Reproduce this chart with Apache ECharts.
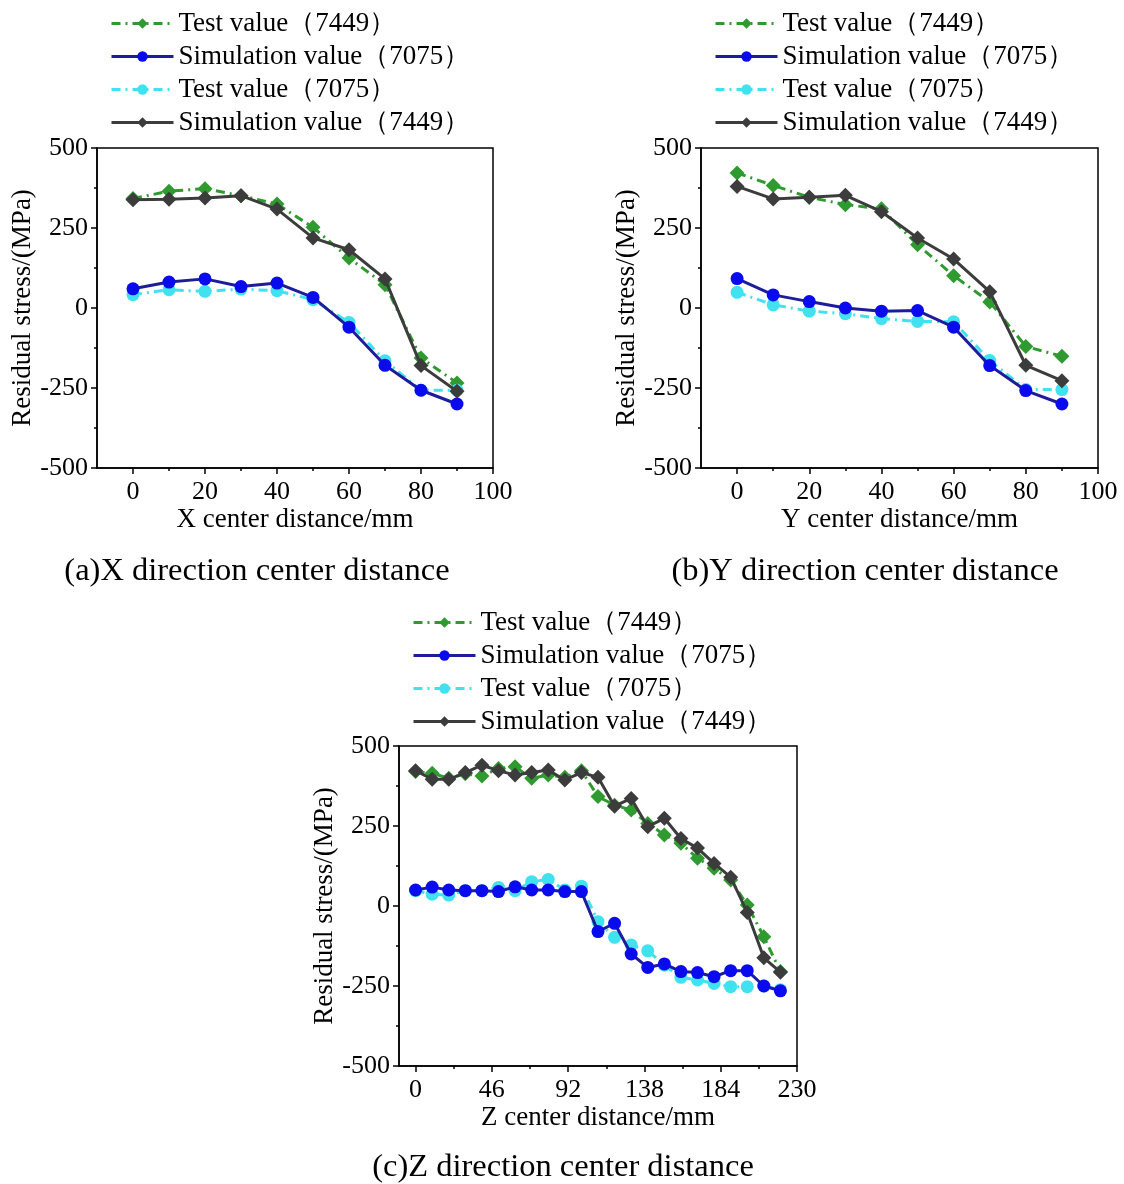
<!DOCTYPE html>
<html>
<head>
<meta charset="utf-8">
<script src="https://cdn.jsdelivr.net/npm/echarts@6/dist/echarts.min.js"></script>
<style>
  html, body { margin: 0; background: #fff; }
  #main { width: 1124px; height: 1184px; }
</style>
</head>
<body>
<div id="main"></div>
<script>
// series names (legend order)
const names = ['Test value（7449）', 'Simulation value（7075）', 'Test value（7075）', 'Simulation value（7449）'];

// (a) X direction
const xA = [0, 10, 20, 30, 40, 50, 60, 70, 80, 90];
const testA7449 = [342, 365, 373, 351, 325, 252, 156, 73, -156, -234];
const simA7075 = [60, 81, 91, 67, 78, 33, -60, -179, -257, -300];
const testA7075 = [42, 57, 52, 59, 54, 26, -45, -165, -257, -257];
const simA7449 = [338, 340, 344, 351, 309, 219, 182, 91, -180, -260];

// (b) Y direction
const xB = [0, 10, 20, 30, 40, 50, 60, 70, 80, 90];
const testB7449 = [422, 383, 346, 323, 310, 198, 101, 19, -120, -151];
const simB7075 = [92, 41, 20, 0, -10, -8, -60, -180, -258, -300];
const testB7075 = [49, 10, -10, -18, -33, -42, -43, -164, -255, -255];
const simB7449 = [380, 341, 346, 352, 301, 219, 153, 51, -179, -227];

// (c) Z direction
const xC = [0, 10, 20, 30, 40, 50, 60, 70, 80, 90, 100, 110, 120, 130, 140, 150, 160, 170, 180, 190, 200, 210, 220];
const testC7449 = [420, 415, 399, 413, 406, 430, 435, 399, 409, 402, 423, 342, 315, 300, 258, 222, 196, 149, 118, 81, 3, -96, -205];
const simC7075 = [50, 59, 50, 48, 48, 45, 60, 50, 50, 45, 45, -80, -54, -150, -192, -181, -205, -208, -221, -202, -202, -250, -265];
const testC7075 = [48, 37, 34, 48, 48, 58, 48, 76, 83, 50, 62, -49, -98, -122, -140, -185, -223, -231, -242, -252, -252, -250, -262];
const simC7449 = [423, 396, 396, 417, 440, 423, 409, 417, 425, 394, 417, 402, 312, 336, 248, 274, 211, 181, 133, 90, -20, -162, -207];

// tick labels
const ticksAB = [0, 20, 40, 60, 80, 100];
const minorAB = [10, 30, 50, 70, 90];
const ticksC = [0, 46, 92, 138, 184, 230];
const minorC = [23, 69, 115, 161, 207];

const FONT = "'Times New Roman', 'Liberation Serif', serif";

// styles per series (same order as names)
const looks = [
  { color: '#2f9a2f', line: '#2f9a2f', type: [9, 5, 2, 5], symbol: 'diamond', size: 15, z: 2 },
  { color: '#0a0aee', line: '#1d1d9c', type: 'solid', symbol: 'circle', size: 13, z: 4 },
  { color: '#3fe2ee', line: '#3fe2ee', type: [9, 5, 2, 5], symbol: 'circle', size: 13, z: 3 },
  { color: '#3c3c3c', line: '#3c3c3c', type: 'solid', symbol: 'diamond', size: 15, z: 5 }
];

function buildSeries(axisIdx, xs, groups) {
  return groups.map((vals, i) => ({
    name: names[i],
    type: 'line',
    xAxisIndex: axisIdx * 2,
    yAxisIndex: axisIdx,
    z: looks[i].z,
    symbol: looks[i].symbol,
    symbolSize: looks[i].size,
    itemStyle: { color: looks[i].color },
    lineStyle: { color: looks[i].line, width: 3, type: looks[i].type },
    data: xs.map((x, k) => [x, vals[k]])
  }));
}

function mainX(grid, max, labels, name) {
  return {
    type: 'value', gridIndex: grid, min: -10, max: max, interval: 10,
    name: name, nameLocation: 'middle', nameGap: 38,
    nameTextStyle: { fontSize: 27, color: '#000', fontFamily: FONT },
    axisLine: { show: true, onZero: false, lineStyle: { color: '#000', width: 1.5 } },
    axisTick: { show: true, customValues: labels, length: 6, lineStyle: { color: '#000', width: 1.5 } },
    axisLabel: { customValues: labels, fontSize: 26, color: '#000', margin: 11, fontFamily: FONT },
    splitLine: { show: false }
  };
}

function minorX(grid, max, ticks) {
  return {
    type: 'value', gridIndex: grid, position: 'bottom', min: -10, max: max, interval: 10,
    axisLine: { show: false, onZero: false },
    axisTick: { show: true, customValues: ticks, length: 3, lineStyle: { color: '#000', width: 1.5 } },
    axisLabel: { show: false },
    splitLine: { show: false }
  };
}

function yAx(grid) {
  return {
    type: 'value', gridIndex: grid, min: -500, max: 500, interval: 250,
    name: 'Residual stress/(MPa)', nameLocation: 'middle', nameGap: 61,
    nameTextStyle: { fontSize: 27, color: '#000', fontFamily: FONT },
    axisLine: { show: true, onZero: false, lineStyle: { color: '#000', width: 1.5 } },
    axisTick: { show: true, length: 6, lineStyle: { color: '#000', width: 1.5 } },
    minorTick: { show: true, splitNumber: 2, length: 3, lineStyle: { color: '#000', width: 1.5 } },
    axisLabel: { fontSize: 26, color: '#000', margin: 9, fontFamily: FONT },
    splitLine: { show: false }
  };
}

function legendAt(left, top) {
  return {
    orient: 'vertical', left: left, top: top, padding: 0,
    itemWidth: 62, itemHeight: 13, itemGap: 6,
    selectedMode: false,
    data: names,
    lineStyle: { width: 3 },
    textStyle: { fontSize: 27, lineHeight: 27, color: '#000', fontFamily: FONT }
  };
}

function caption(x, y, text) {
  return {
    type: 'text', x: x, y: y,
    style: { text: text, font: '32.5px ' + FONT, fill: '#000', textAlign: 'center', textVerticalAlign: 'middle' }
  };
}

const gridBox = { show: true, borderColor: '#000', borderWidth: 1.5, containLabel: false };

const chart = echarts.init(document.getElementById('main'));
chart.setOption({
  animation: false,
  backgroundColor: '#fff',
  textStyle: { fontFamily: FONT },
  grid: [
    Object.assign({ left: 97, top: 148, width: 396, height: 320 }, gridBox),
    Object.assign({ left: 701, top: 148, width: 397, height: 320 }, gridBox),
    Object.assign({ left: 399, top: 746, width: 398, height: 320 }, gridBox)
  ],
  legend: [legendAt(110, 10), legendAt(714, 10), legendAt(412, 609)],
  xAxis: [
    mainX(0, 100, ticksAB, 'X center distance/mm'), minorX(0, 100, minorAB),
    mainX(1, 100, ticksAB, 'Y center distance/mm'), minorX(1, 100, minorAB),
    mainX(2, 230, ticksC, 'Z center distance/mm'), minorX(2, 230, minorC)
  ],
  yAxis: [yAx(0), yAx(1), yAx(2)],
  graphic: [
    caption(257, 571, '(a)X direction center distance'),
    caption(865, 571, '(b)Y direction center distance'),
    caption(563, 1167, '(c)Z direction center distance')
  ],
  series: [].concat(
    buildSeries(0, xA, [testA7449, simA7075, testA7075, simA7449]),
    buildSeries(1, xB, [testB7449, simB7075, testB7075, simB7449]),
    buildSeries(2, xC, [testC7449, simC7075, testC7075, simC7449])
  )
});
</script>
</body>
</html>
